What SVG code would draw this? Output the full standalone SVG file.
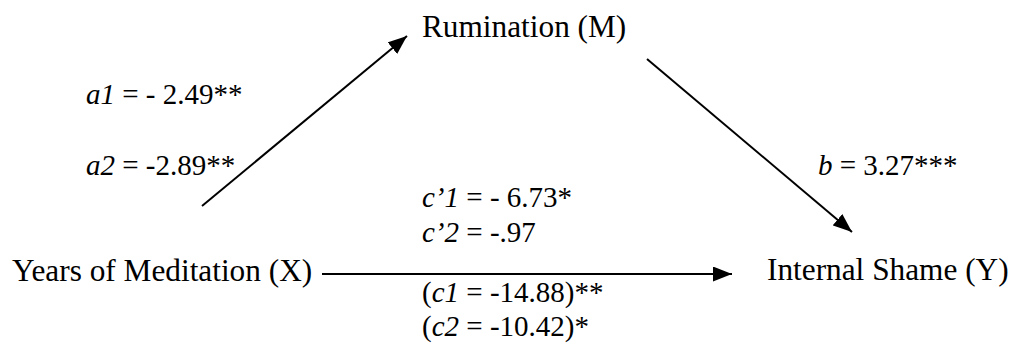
<svg xmlns="http://www.w3.org/2000/svg" width="1014" height="349" viewBox="0 0 1014 349">
<defs>
<style>
text{font-family:"Liberation Serif","Times New Roman",serif;fill:#000}
.n{font-size:31.3px}
.l{font-size:29px}
.i{font-style:italic}
.c{stroke:#000;stroke-width:2;fill:none}
</style>
<marker id="ah" markerUnits="userSpaceOnUse" markerWidth="19" markerHeight="15" refX="19" refY="7.5" orient="auto">
<path d="M0,0 L19,7.5 L0,15 z" fill="#000"/>
</marker>
</defs>
<rect width="1014" height="349" fill="#fff"/>
<g id="connectors">
<line class="c" x1="202" y1="206" x2="407" y2="36" marker-end="url(#ah)"/>
<line class="c" x1="647" y1="59" x2="852" y2="232" marker-end="url(#ah)"/>
<line class="c" x1="322" y1="274" x2="732" y2="274" marker-end="url(#ah)"/>
</g>
<g id="node-m"><text class="n" x="422" y="37">Rumination (M)</text></g>
<g id="node-x"><text class="n" x="12" y="281">Years of Meditation (X)</text></g>
<g id="node-y"><text class="n" x="767" y="280">Internal Shame (Y)</text></g>
<g id="labels">
<text class="l" x="86" y="104"><tspan class="i">a1</tspan> = - 2.49**</text>
<text class="l" x="86" y="175"><tspan class="i">a2</tspan> = -2.89**</text>
<text class="l" x="818" y="175"><tspan class="i">b</tspan> = 3.27***</text>
<text class="l" x="422" y="207"><tspan class="i">c’1</tspan> = - 6.73*</text>
<text class="l" x="422" y="242"><tspan class="i">c’2</tspan> = -.97</text>
<text class="l" x="422" y="302">(<tspan class="i">c1</tspan> = -14.88)**</text>
<text class="l" x="422" y="336">(<tspan class="i">c2</tspan> = -10.42)*</text>
</g>
</svg>
